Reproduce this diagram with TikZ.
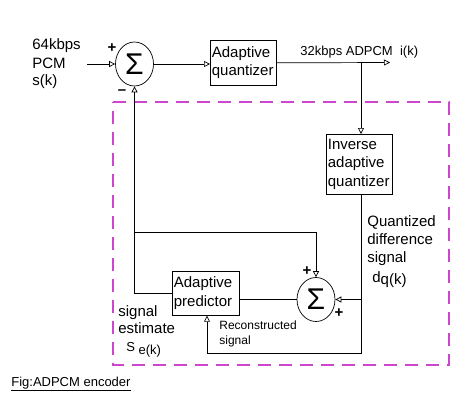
\documentclass[tikz,border=0pt]{standalone}
\usepackage{fontspec}
\setmainfont{Liberation Sans}
\usetikzlibrary{arrows.meta,shapes.geometric}
\begin{document}
\begin{tikzpicture}[x=1pt,y=-1pt, line width=0.7pt,
 big/.style={font=\fontsize{15}{18.5}\selectfont},
 txt/.style={big, anchor=base west, inner sep=0pt},
 smalltxt/.style={font=\fontsize{12}{14}\selectfont, anchor=base west, inner sep=0pt},
 midtxt/.style={font=\fontsize{13}{15}\selectfont, anchor=base west, inner sep=0pt},
 blockbox/.style={draw, rectangle, big, align=left, inner sep=1.5pt, anchor=north west},
 summer/.style={draw, ellipse, minimum width=38pt, minimum height=44pt, inner sep=0pt, font=\fontsize{30}{30}\selectfont},
 arr/.style={-{Triangle[open,length=6pt,width=6pt]}},
 sgn/.style={font=\fontsize{15}{15}\selectfont\bfseries, inner sep=0pt},
 region/.style={color={rgb,255:red,205;green,70;blue,205}, dash pattern=on 13pt off 8pt, line width=1.1pt}]
\useasboundingbox (0,0) rectangle (469,404);

% dashed region
\draw[region] (113,102) -- (449,102) -- (449,365) -- (113,365) -- cycle;

% blocks
\node[summer] (s1) at (134.5,64) {Σ};
\node[blockbox, text width=63pt, minimum height=45pt] (aq) at (210,40) {Adaptive\\quantizer};
\node[blockbox, text width=63pt, minimum height=60pt] (iaq) at (326,134) {Inverse\\adaptive\\quantizer};
\node[blockbox, text width=64pt, minimum height=44pt] (pr) at (172,271) {Adaptive\\predictor};
\node[summer] (s2) at (316,299.5) {Σ};

% coordinates
\coordinate (in) at (87,64);
\coordinate (out) at (390,62.5);
\coordinate (br1) at (361,62.5);
\coordinate (ivb) at (361,194);
\coordinate (c1) at (361,353);
\coordinate (c2) at (207,353);
\coordinate (c3) at (361,299.5);
\coordinate (br2) at (134.5,232);

% connectors
\draw[arr] (in) -- (s1.west);
\draw[arr] (s1.east) -- (s1.east -| aq.west);
\draw[arr] (aq.east) -- (out);
\draw[arr] (br1) -- (br1 |- iaq.north);
\draw[arr] (ivb) -- (c1) -- (c2) -- (c2 |- pr.south);
\draw[arr] (c3) -- (s2.east);
\draw (s2.west) -- (s2.west -| pr.east);
\draw[arr] (pr.west) -| (s1.south);
\draw[arr] (br2) -| (s2.north);

% signs
\node[sgn] (p1) at (112,48) {+};
\node[sgn] (m1) at (122,92) {\textendash};
\node[sgn] (p2) at (307,271) {+};
\node[sgn] (p3) at (339,313) {+};

% texts
\node[txt] (t1) at (32,50) {64kbps};
\node[txt] (t2) at (32,68.5) {PCM};
\node[txt] (t3) at (32,86) {s(k)};
\node[midtxt] (t4) at (300,56) {32kbps ADPCM\ \ i(k)};
\node[txt] (t5) at (367,226) {Quantized};
\node[txt] (t6) at (367,244) {difference};
\node[txt] (t7) at (367,262) {signal};
\node[txt] (t8) at (372,282) {d\raisebox{-2pt}{q(k)}};
\node[txt] (t9) at (118,316) {signal};
\node[txt] (t10) at (118,333.5) {estimate};
\node[midtxt] (t11) at (126,351) {S \raisebox{-3pt}{e(k)}};
\node[smalltxt] (t12) at (219,329) {Reconstructed};
\node[smalltxt] (t13) at (219,344) {signal};
\node[midtxt] (t14) at (11,386) {\underline{Fig:ADPCM encoder}};
\end{tikzpicture}
\end{document}
